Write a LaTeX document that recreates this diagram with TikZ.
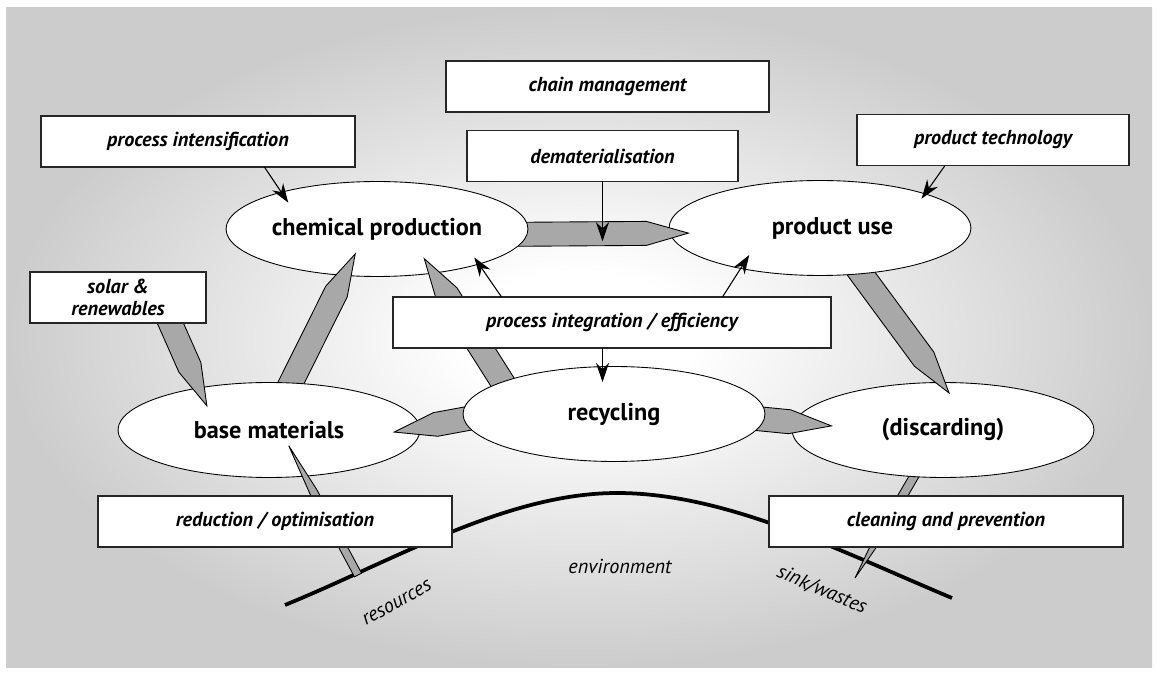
\documentclass[tikz,border=0pt]{standalone}
\usepackage{fontspec}
\setmainfont{PT Sans}
\usetikzlibrary{calc,arrows.meta,shapes.geometric}

\pgfdeclareradialshading{haze}{\pgfpoint{0bp}{0bp}}{color(0bp)=(white); color(5bp)=(white); color(25bp)=(black!20); color(50bp)=(black!20)}

\pgfdeclarelayer{panel}
\pgfdeclarelayer{discL}
\pgfdeclarelayer{flowA}
\pgfdeclarelayer{useL}
\pgfdeclarelayer{flowB}
\pgfdeclarelayer{chemL}
\pgfdeclarelayer{flowC}
\pgfdeclarelayer{baseL}
\pgfdeclarelayer{flowD}
\pgfsetlayers{panel,discL,flowA,useL,flowB,chemL,flowC,baseL,flowD,main}

\tikzset{
  stage/.style={ellipse,draw,fill=white,line width=0.5pt,minimum width=6.04cm,minimum height=1.9cm,
    inner sep=0pt,outer sep=0pt,font=\fontsize{13.8}{16}\selectfont\bfseries},
  lever/.style={rectangle,draw=black!85,fill=white,line width=0.7pt,minimum height=1.02cm,
    inner sep=2pt,outer sep=0pt,align=center,font=\fontsize{11.5}{13}\selectfont\bfseries\itshape},
  push/.style={-{Stealth[length=3.8mm,width=2.6mm]},line width=0.6pt},
  flow/.style={fill=black!34,draw=black,line width=0.5pt},
  earth/.style={line width=0.75mm},
  note/.style={inner sep=0pt,font=\fontsize{11.5}{13}\selectfont\itshape}
}

% wide arrow: [tail overlap]{from}{to}{tip overlap}{half width}{head length}
\newcommand\pencil[6][2mm]{%
  \coordinate (pcT) at ($(#2)!-#1!(#3)$);
  \coordinate (pcH) at ($(#3)!-#4!(#2)$);
  \coordinate (pcS) at ($(pcH)!#6!(pcT)$);
  \filldraw[flow] ($(pcT)!#5!90:(pcH)$) -- ($(pcS)!#5!-90:(pcT)$) -- (pcH)
    -- ($(pcS)!#5!90:(pcT)$) -- ($(pcT)!#5!-90:(pcH)$) -- cycle;
}

\begin{document}
\begin{tikzpicture}[x=0.02cm,y=-0.02cm]
\useasboundingbox (0,0) rectangle (1157,675);

\begin{pgfonlayer}{panel}
\fill[white] (0,0) rectangle (1157,675);
\shade[shading=haze] (6,8) rectangle (1152,667);
\draw[earth] (285,605) .. controls (395,560) and (507,493) .. (617,493)
  .. controls (727,493) and (842,552) .. (952,598);
\end{pgfonlayer}
\coordinate (res) at (358,575);
\coordinate (sink) at (855,578);

% life cycle stages
\begin{pgfonlayer}{discL}
\node[stage] (disc) at (943,430) {(discarding)};
\end{pgfonlayer}
\begin{pgfonlayer}{useL}
\node[stage] (use) at (820,228) {\hspace*{0.5cm}product use};
\end{pgfonlayer}
\begin{pgfonlayer}{chemL}
\node[stage] (chem) at (377,229) {chemical production};
\end{pgfonlayer}
\begin{pgfonlayer}{baseL}
\node[stage] (base) at (269,430) {base materials};
\end{pgfonlayer}
\node[stage] (rec) at (614,414) {recycling};

% levers
\node[lever,minimum width=6.46cm] (chain) at (607.5,86.5) {chain management};
\node[lever,minimum width=5.42cm] (demat) at (602.5,156) {dematerialisation};
\node[lever,minimum width=6.28cm] (procint) at (198,141.5) {process intensification};
\node[lever,minimum width=5.44cm] (prodtech) at (993,140) {product technology};
\node[lever,minimum width=3.52cm] (solar) at (118,297.5) {solar \&\\renewables};
\node[lever,minimum width=8.76cm] (integ) at (612,322.5) {process integration / efficiency};
\node[lever,minimum width=7.08cm] (reduct) at (275,521.5) {reduction / optimisation};
\node[lever,minimum width=7.08cm] (clean) at (946,521.5) {cleaning and prevention};

\node[note] (envl) at (620,566) {environment};
\node[note,rotate=29] (resl) at (397,603) {resources};
\node[note,rotate=-23] (sinkl) at (822,590) {sink/wastes};

% material flows
\begin{pgfonlayer}{panel}
\pencil{disc.238}{sink}{0mm}{0.9mm}{11mm}
\end{pgfonlayer}
\begin{pgfonlayer}{flowA}
\pencil{use.-48}{disc.92}{2.6mm}{2.4mm}{8.4mm}
\end{pgfonlayer}
\begin{pgfonlayer}{flowB}
\pencil{chem.-2}{use.182}{3.7mm}{2.4mm}{8.4mm}
\end{pgfonlayer}
\begin{pgfonlayer}{flowC}
\pencil{base.65}{chem.235}{4.8mm}{2.4mm}{8.4mm}
\end{pgfonlayer}
\begin{pgfonlayer}{flowD}
\pencil{solar.-26}{base.149}{3.9mm}{2.4mm}{8.4mm}
\pencil{rec.164}{chem.-38}{3.4mm}{2.4mm}{8.4mm}
\pencil{rec.182}{base.1}{5.2mm}{2.4mm}{8.4mm}
\pencil{rec.-2}{disc.177}{7.5mm}{2.4mm}{8.4mm}
\pencil[0mm]{res}{base.-52}{6.9mm}{0.8mm}{10.4mm}
\end{pgfonlayer}

\coordinate (midchain) at ($(chem.-2)!0.5!(use.182)$);
\draw[push,shorten >=-2.5mm] (procint.-21) -- (chem.159);
\draw[push,shorten >=-1.5mm] (demat) -- (demat |- midchain);
\draw[push,shorten >=-1.6mm] (integ.167) -- (chem.-19);
\draw[push,shorten >=-3.2mm] (integ.13) -- (use.207);
\draw[push,shorten >=-3.1mm] (integ.south -| demat) -- (rec.north -| demat);
\draw[push,shorten >=-1.2mm] (prodtech.208) -- (use.18);
\end{tikzpicture}
\end{document}
